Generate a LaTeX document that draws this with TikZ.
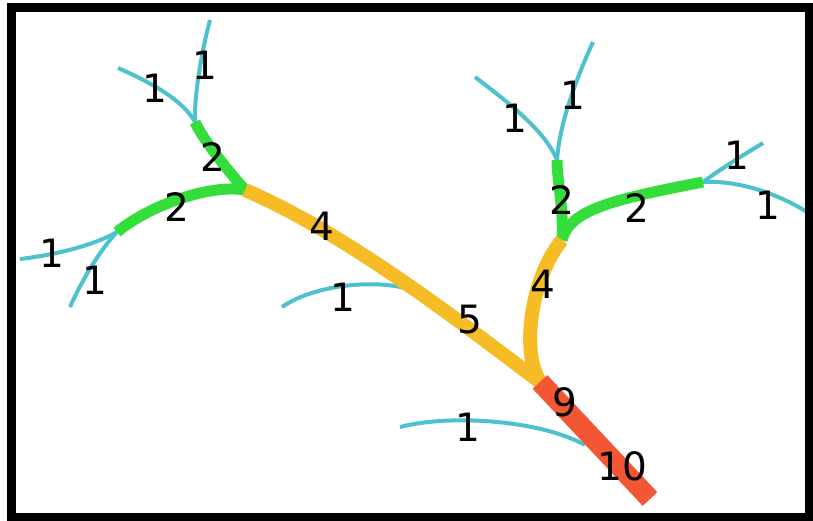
\documentclass[tikz,border=0pt]{standalone}
\usepackage{fontspec}
\setmainfont{DejaVu Sans}

\definecolor{leafc}{RGB}{76,194,204}
\definecolor{twigc}{RGB}{52,222,58}
\definecolor{limbc}{RGB}{245,188,38}
\definecolor{trunkc}{RGB}{242,86,52}

\tikzset{
  leaf/.style={draw=leafc, line width=4},
  twig/.style={draw=twigc, line width=11},
  limb/.style={draw=limbc, line width=14},
  trunk/.style={draw=trunkc, line width=20},
  num/.style={inner sep=0, font=\fontsize{39}{39}\selectfont, text=black},
}

\begin{document}
\begin{tikzpicture}[x=1pt, y=-1pt]
\useasboundingbox (0,0) rectangle (813,521);
\fill[white] (0,0) rectangle (813,521);

% forks and ends
\coordinate (root)   at (650,499);
\coordinate (fork)   at (540,382);
\coordinate (lfork)  at (245,190);
\coordinate (rfork)  at (562,240);
\coordinate (lu)     at (195,122);
\coordinate (ll)     at (117,232);
\coordinate (ru)     at (557,160);
\coordinate (rr)     at (703,182);
\coordinate (lutop)  at (210,20);
\coordinate (luleft) at (118,68);
\coordinate (llleft) at (20,259);
\coordinate (lldown) at (70,307);
\coordinate (rutop)  at (593,42);
\coordinate (ruleft) at (475,77);
\coordinate (rrup)   at (763,143);
\coordinate (rrdown) at (807,212);
\coordinate (midend) at (282,307);
\coordinate (midjoin) at (415,291);
\coordinate (lowend) at (400,427);
\coordinate (lowjoin) at (585,445);

% single streams
\draw[leaf] (lu) .. controls (194,95) and (202,50) .. (lutop);
\draw[leaf] (lu) .. controls (183,100) and (150,82) .. (luleft);
\draw[leaf] (ll) .. controls (95,245) and (55,255) .. (llleft);
\draw[leaf] (ll) .. controls (100,250) and (82,280) .. (lldown);
\draw[leaf] (ru) .. controls (560,120) and (578,75) .. (rutop);
\draw[leaf] (ru) .. controls (545,130) and (505,100) .. (ruleft);
\draw[leaf] (rr) .. controls (725,166) and (745,154) .. (rrup);
\draw[leaf] (rr) .. controls (740,180) and (780,195) .. (rrdown);
\draw[leaf] (midend) .. controls (315,284) and (380,278) .. (midjoin);
\draw[leaf] (lowend) .. controls (450,414) and (540,420) .. (lowjoin);

% second order
\draw[twig] (lfork) .. controls (230,173) and (203,140) .. (lu);
\draw[twig] (lfork) .. controls (210,184) and (150,205) .. (ll);
\draw[twig] (rfork) .. controls (564,210) and (557,180) .. (ru);
\draw[twig] (rfork) .. controls (570,210) and (610,200) .. (rr);

% fourth order
\draw[limb] (lfork) .. controls (345,233) and (458,320) .. (fork);
\draw[limb] (rfork) .. controls (532,276) and (520,350) .. (fork);

% main stem
\draw[trunk] (fork) -- (root);

% frame
\draw[line width=9] (11.5,8) rectangle (809.5,517.5);

% stream orders
\node[num] (n1)  at (205,65)  {1};
\node[num] (n2)  at (155,88)  {1};
\node[num] (n3)  at (213,157) {2};
\node[num] (n4)  at (177,207) {2};
\node[num] (n5)  at (52,253)  {1};
\node[num] (n6)  at (95,280)  {1};
\node[num] (n7)  at (322,226) {4};
\node[num] (n8)  at (343,297) {1};
\node[num] (n9)  at (470,320) {5};
\node[num] (n10) at (573,95)  {1};
\node[num] (n11) at (515,118) {1};
\node[num] (n12) at (562,200) {2};
\node[num] (n13) at (637,208) {2};
\node[num] (n14) at (737,155) {1};
\node[num] (n15) at (768,205) {1};
\node[num] (n16) at (543,284) {4};
\node[num] (n17) at (565,402) {9};
\node[num] (n18) at (468,427) {1};
\node[num] (n19) at (622,466) {10};
\end{tikzpicture}
\end{document}
